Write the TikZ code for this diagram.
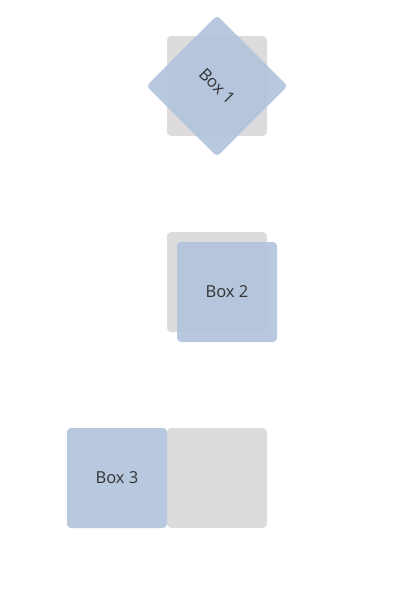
\documentclass[tikz,border=0pt]{standalone}
\usepackage{fontspec}
\setmainfont{Open Sans}
\begin{document}
\begin{tikzpicture}[x=1pt,y=-1pt,
  ghost/.style={fill=ghostgray, rounded corners=4pt, minimum width=100pt, minimum height=100pt, inner sep=0pt, anchor=center},
  card/.style={fill=cardblue, fill opacity=0.9, text opacity=1, rounded corners=4pt, minimum width=100pt, minimum height=100pt, inner sep=0pt, anchor=center, text=labelgray, font=\fontsize{16.5}{19}\selectfont}]
\definecolor{ghostgray}{HTML}{DCDCDC}
\definecolor{cardblue}{RGB}{176,195,220}
\definecolor{labelgray}{HTML}{333333}
\useasboundingbox (0,0) rectangle (400,600);
% rotated card
\node[ghost] (g1) at (217,86) {};
\node[card, rotate=-45] (b1) at (217,86) {Box 1};
% shifted card
\node[ghost] (g2) at (217,282) {};
\node[card] (b2) at (227,292) {Box 2};
% card moved left
\node[ghost] (g3) at (217,478) {};
\node[card] (b3) at (117,478) {Box 3};
\end{tikzpicture}
\end{document}
